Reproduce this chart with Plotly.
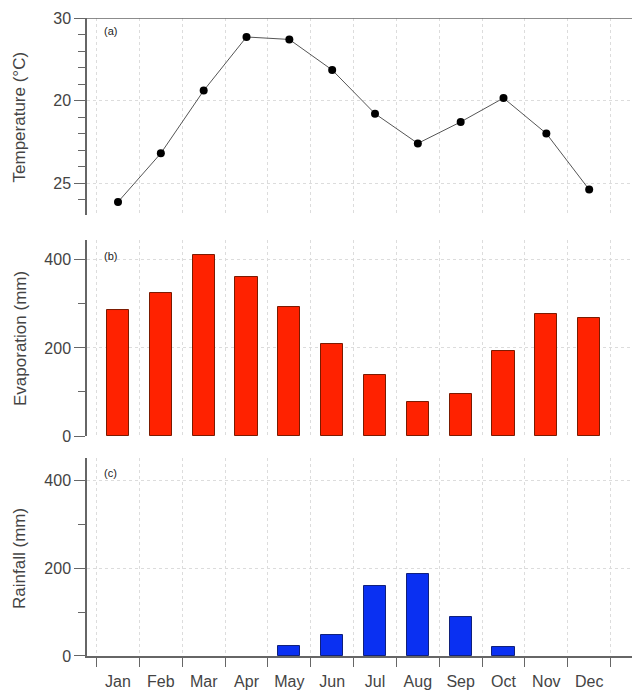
import plotly.graph_objects as go

months = ["Jan", "Feb", "Mar", "Apr", "May", "Jun", "Jul", "Aug", "Sep", "Oct", "Nov", "Dec"]
temperature = [18.85, 21.8, 25.6, 28.85, 28.7, 26.85, 24.2, 22.4, 23.7, 25.15, 23.0, 19.6]
evaporation = [285, 325, 411, 362, 292, 210, 138, 77, 95, 192, 276, 267]
rainfall = [0, 0, 0, 0, 23, 48, 159, 186, 89, 20, 0, 0]

temp_tickvals = [20, 25, 30]
temp_ticktext = ["25", "20", "30"]
mm_tickvals = [0, 200, 400]
mm_ticktext = ["0", "200", "400"]

x = list(range(len(months)))
bounds = [k - 0.5 for k in range(len(months) + 1)]

FONT = "Liberation Sans"
AXC = "#666666"
TXT = "#444444"
GRID = "#dcdcdc"

fig = go.Figure()
fig.add_trace(go.Scatter(x=x, y=temperature, mode="lines+markers",
                         line=dict(color="#555555", width=1),
                         marker=dict(color="black", size=8, symbol="circle"),
                         xaxis="x", yaxis="y", showlegend=False))
fig.add_trace(go.Bar(x=x, y=evaporation, width=0.52,
                     marker=dict(color="#ff2200", line=dict(color="#7a1a00", width=1)),
                     xaxis="x2", yaxis="y2", showlegend=False))
fig.add_trace(go.Bar(x=x, y=rainfall, width=0.52,
                     marker=dict(color="#0a30f2",
                                 line=dict(color="#10207a",
                                           width=[1 if v > 0 else 0 for v in rainfall])),
                     xaxis="x3", yaxis="y3", showlegend=False))

xr = [-0.724, 12.0]


def xaxis(anchor, labels):
    d = dict(anchor=anchor, range=xr, domain=[0, 1], zeroline=False,
             tickmode="array", tickvals=x, ticktext=months, ticks="",
             showgrid=False, showticklabels=labels,
             tickfont=dict(family=FONT, size=16, color=TXT),
             minor=dict(tickmode="array", tickvals=bounds,
                        ticks="outside" if labels else "", ticklen=9,
                        tickcolor=AXC, tickwidth=1,
                        showgrid=True, gridcolor=GRID, griddash="dot", gridwidth=1),
             showline=labels, linecolor=AXC, linewidth=1.5)
    if labels:
        d["ticklabelstandoff"] = 10
    return d


def yaxis(anchor, domain, rng, tv, tt, mdt):
    return dict(anchor=anchor, domain=domain, range=rng, zeroline=False,
                tickmode="array", tickvals=tv, ticktext=tt,
                ticks="outside", ticklen=11, tickcolor=AXC, tickwidth=1,
                showline=True, linecolor=AXC, linewidth=1.5,
                showgrid=True, gridcolor=GRID, griddash="dot", gridwidth=1,
                tickfont=dict(family=FONT, size=16, color=TXT),
                minor=dict(dtick=mdt, ticks="outside", ticklen=7,
                           tickcolor=AXC, tickwidth=1, showgrid=False))


fig.update_layout(
    width=632, height=690,
    margin=dict(l=87, r=0, t=18, b=34),
    paper_bgcolor="white", plot_bgcolor="white",
    bargap=0,
    xaxis=xaxis("y", False),
    xaxis2=xaxis("y2", False),
    xaxis3=xaxis("y3", True),
    yaxis=yaxis("x", [0.6912, 1.0], [18.06, 30], temp_tickvals, temp_ticktext, 1),
    yaxis2=yaxis("x2", [0.3448, 0.652], [0, 445], mm_tickvals, mm_ticktext, 100),
    yaxis3=yaxis("x3", [0, 0.3103], [0, 450], mm_tickvals, mm_ticktext, 100),
)

fig.add_shape(type="line", xref="x domain", yref="y", x0=0, x1=1, y0=30, y1=30,
              line=dict(color=AXC, width=1.5))

titles = [("Temperature (°C)", 0.8456), ("Evaporation (mm)", 0.4984), ("Rainfall (mm)", 0.1537)]
for t, yy in titles:
    fig.add_annotation(text=t, xref="paper", yref="paper", x=-0.123, y=yy,
                       textangle=-90, showarrow=False, xanchor="center", yanchor="middle",
                       font=dict(family=FONT, size=17, color=TXT))

for lab, ax, yy in [("(a)", "", 0.934), ("(b)", "2", 0.918), ("(c)", "3", 0.924)]:
    fig.add_annotation(text=lab, xref="x%s domain" % ax, yref="y%s domain" % ax,
                       x=0.028, y=yy, showarrow=False, xanchor="left", yanchor="middle",
                       font=dict(family=FONT, size=11, color="#222222"))

fig.write_html("out.html")
